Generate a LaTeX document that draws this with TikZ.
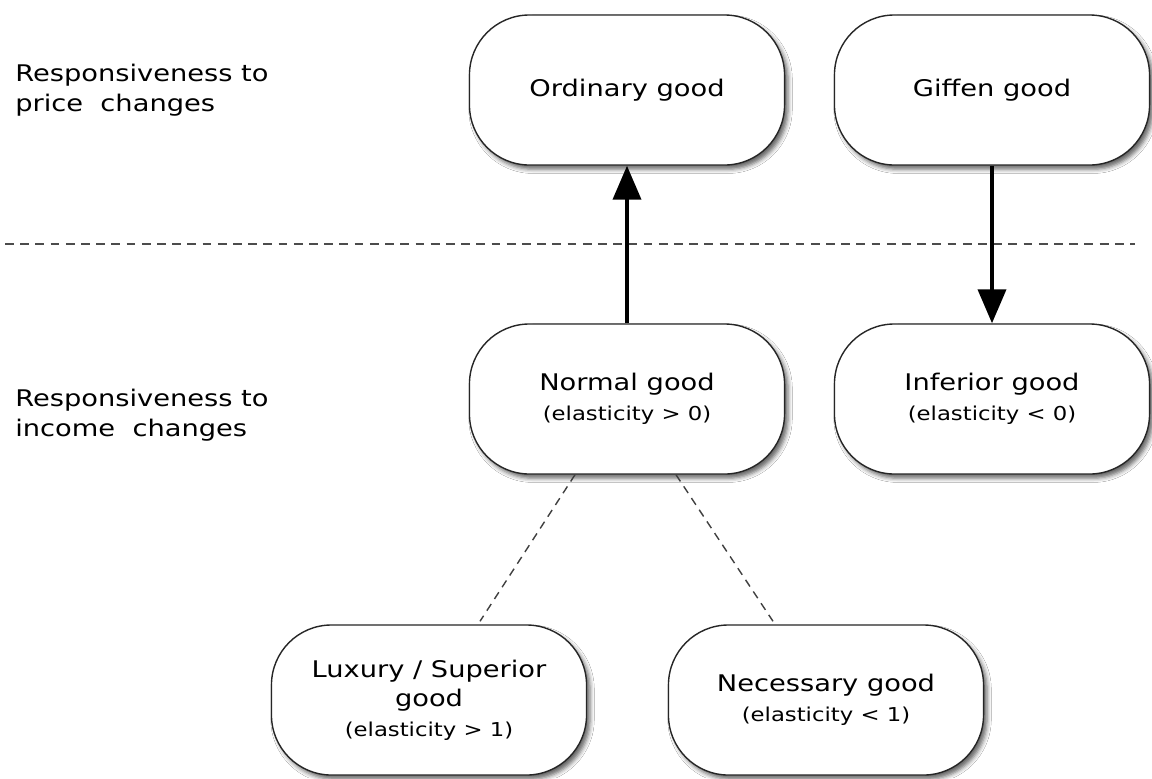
\documentclass[tikz,border=0pt]{standalone}
\usepackage{fontspec}
\setmainfont[FakeStretch=1.19]{DejaVu Sans}
\usepackage{xcolor}
\usetikzlibrary{arrows.meta,shadows.blur,calc}

\newcommand{\elast}[1]{{\fontsize{13.6pt}{16pt}\selectfont (elasticity #1)}}

\tikzset{
  good/.style={rectangle, rounded corners=1.5cm, draw=black!85, line width=1pt,
    fill=white, minimum width=7.875cm, minimum height=3.75cm, align=center,
    blur shadow={shadow xshift=2.5pt, shadow yshift=-3pt, shadow blur radius=3pt, shadow opacity=60}},
  side/.style={anchor=west, align=left, inner sep=0pt},
  goodarrow/.style={line width=2.8pt, -{Triangle[width=0.7cm, length=0.85cm]}},
  sepline/.style={black!70, line width=1.3pt, dash pattern=on 0.22cm off 0.16cm},
  subline/.style={black!75, line width=1pt, dash pattern=on 0.2cm off 0.15cm}
}

\begin{document}
\begin{tikzpicture}[x=0.025cm, y=-0.025cm, font=\fontsize{16.3pt}{21pt}\selectfont]
            \useasboundingbox[fill=white] (0,0) rectangle (1152,778);
            \node [good] (ordinary) at (627,90) {Ordinary good};
            \node [good] (giffen) at (992,90) {Giffen good};
            \node [good] (normal) at (627,399) {Normal good\\\elast{> 0}};
            \node [good] (inferior) at (992,399) {Inferior good\\\elast{< 0}};
            \node [good] (luxury) at (429,700) {Luxury / Superior\\good\\\elast{> 1}};
            \node [good] (necessary) at (826,700) {Necessary good\\\elast{< 1}};
            \node [side] (pricelbl) at (15,90) {Responsiveness to\\price\ \ changes};
            \node [side] (incomelbl) at (15,415) {Responsiveness to\\income\ \ changes};
            \coordinate (sepL) at (5,244);
            \coordinate (sepR) at (1135,244);
            \draw [sepline] (sepL)--(sepR);
            \draw [goodarrow] (normal.north)--(ordinary.south);
            \draw [goodarrow] (giffen.south)--(inferior.north);
            \draw [subline] ($(normal.south)+(-52,0)$)--($(luxury.north)+(51,-3)$);
            \draw [subline] ($(normal.south)+(49,0)$)--($(necessary.north)+(-53,-3)$);
        \end{tikzpicture}
\end{document}
